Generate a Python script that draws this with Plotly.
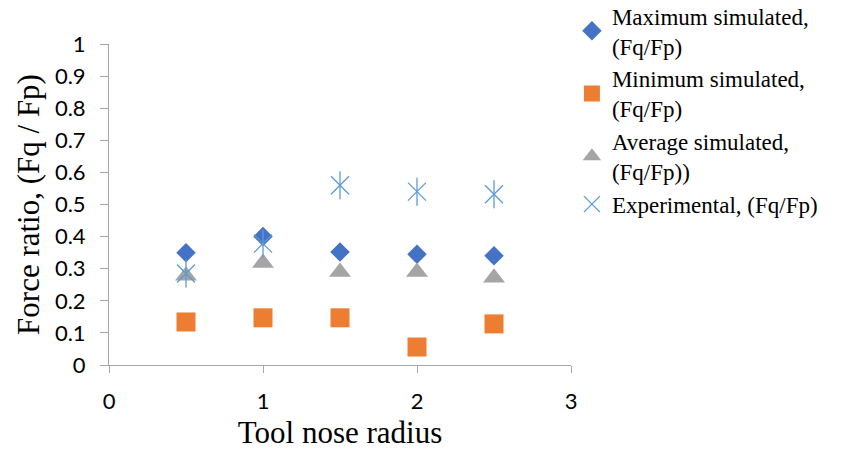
import plotly.graph_objects as go

radius = [0.5, 1.0, 1.5, 2.0, 2.5]
max_sim = [0.35, 0.40, 0.352, 0.345, 0.34]
min_sim = [0.134, 0.147, 0.147, 0.056, 0.128]
avg_sim = [0.278, 0.318, 0.29, 0.29, 0.272]
experimental = [0.285, 0.378, 0.56, 0.54, 0.532]

serif = "Liberation Serif, Times New Roman, serif"
sans = "Lato, Calibri, sans-serif"
star_color = "#5B9BD5"

fig = go.Figure()

fig.add_trace(go.Scatter(
    x=radius, y=max_sim, mode="markers", name="Maximum simulated,<br>(Fq/Fp)",
    marker=dict(symbol="diamond", size=15, color="#4472C4"),
))
fig.add_trace(go.Scatter(
    x=radius, y=min_sim, mode="markers", name="Minimum simulated,<br>(Fq/Fp)",
    marker=dict(symbol="square", size=19, color="#ED7D31"),
))
fig.add_trace(go.Scatter(
    x=radius, y=avg_sim, mode="markers", name="Average simulated,<br>(Fq/Fp))",
    marker=dict(symbol="triangle-up", size=19, color="#A5A5A5"),
))
fig.add_trace(go.Scatter(
    x=radius, y=experimental, mode="markers", name="Experimental, (Fq/Fp)",
    legendgroup="exp",
    marker=dict(symbol="x-thin-open", size=18, color=star_color, line=dict(color=star_color, width=1.3)),
))
fig.add_trace(go.Scatter(
    x=radius, y=experimental, mode="markers", showlegend=False, legendgroup="exp",
    marker=dict(symbol="line-ns-open", size=20, color=star_color, line=dict(color=star_color, width=1.3)),
    hoverinfo="skip",
))

fig.update_layout(
    width=853, height=450,
    paper_bgcolor="white", plot_bgcolor="white",
    margin=dict(l=109, r=282, t=44, b=85, autoexpand=False),
    showlegend=True,
    legend=dict(
        x=1.002, y=1.155, xanchor="left", yanchor="top",
        font=dict(family=serif, size=23, color="black"),
        tracegroupgap=0, itemwidth=30, maxheight=460,
        bgcolor="rgba(0,0,0,0)",
    ),
    xaxis=dict(
        range=[0, 3], dtick=1, showgrid=False, zeroline=False, automargin=False,
        showline=True, linecolor="#A6A6A6", linewidth=1,
        ticks="outside", ticklen=7, tickcolor="#A6A6A6", ticklabelstandoff=10,
        tickfont=dict(family=sans, size=22, color="black"),
        title=dict(text="Tool nose radius", font=dict(family=serif, size=31, color="black"), standoff=20),
    ),
    yaxis=dict(
        range=[0, 1], dtick=0.1, showgrid=False, zeroline=False, automargin=False,
        showline=True, linecolor="#A6A6A6", linewidth=1,
        ticks="outside", ticklen=8, tickcolor="#A6A6A6", ticklabelstandoff=10,
        tickfont=dict(family=sans, size=22, color="black"),
        title=dict(text="Force ratio, (Fq / Fp)", font=dict(family=serif, size=31, color="black"), standoff=6),
    ),
)

fig.write_html("out.html", config={"displayModeBar": False},
               post_script="document.body.style.margin='0px';")
